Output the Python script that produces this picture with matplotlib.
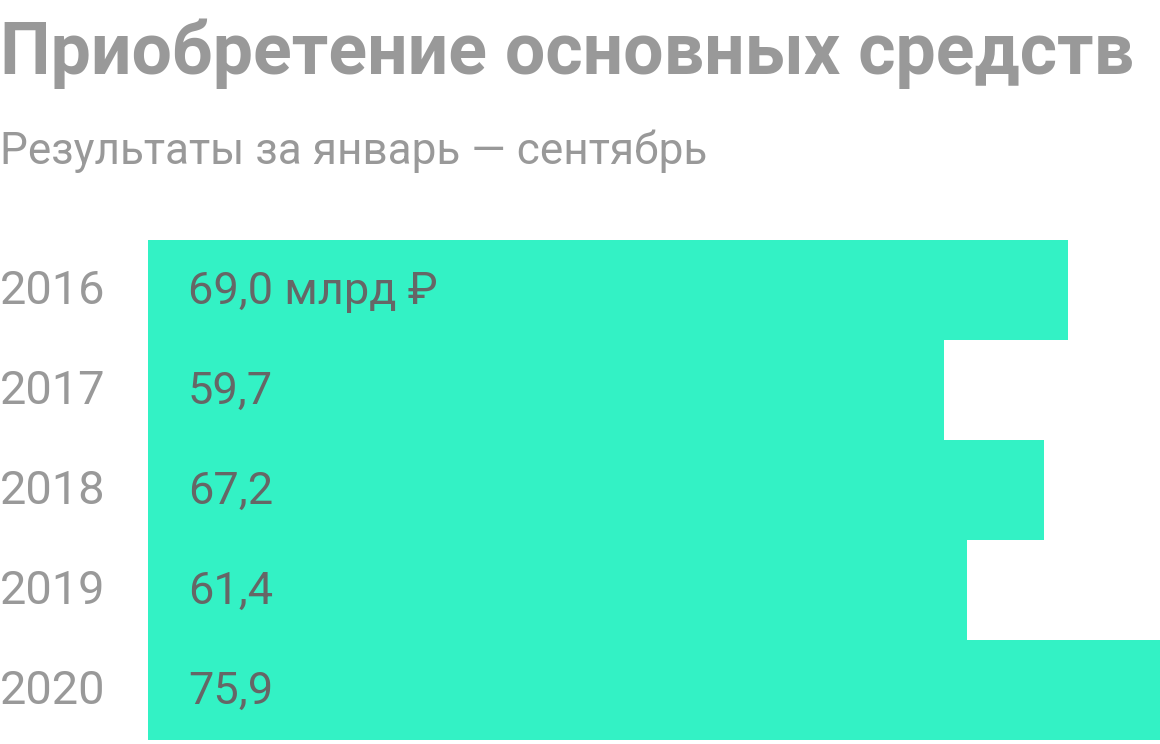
import matplotlib
matplotlib.use("Agg")
import matplotlib.pyplot as plt

years = ["2016", "2017", "2018", "2019", "2020"]
values = [69.0, 59.7, 67.2, 61.4, 75.9]
value_labels = ["69,0 млрд ₽", "59,7", "67,2", "61,4", "75,9"]
title = "Приобретение основных средств"
subtitle = "Результаты за январь — сентябрь"

plt.rcParams['font.family'] = ['Roboto', 'DejaVu Sans']

W, H = 1160, 744
fig = plt.figure(figsize=(W / 100, H / 100), dpi=100)
fig.patch.set_facecolor('white')

ax = fig.add_axes([148 / W, 4 / H, 1 - 148 / W, 500 / H])
pos = list(range(len(years)))
ax.barh(pos, values, height=1.0, color='#33F2C5', linewidth=0)
ax.set_xlim(0, max(values))
ax.set_ylim(len(years) - 0.5, -0.5)
ax.axis('off')

for i, (y, lab) in enumerate(zip(years, value_labels)):
    base = 1 - (304 + 100 * i) / H
    fig.text(0 / W, base, y, fontsize=33.8, color='#999999',
             va='baseline', ha='left')
    fig.text(188 / W, base, lab, fontsize=32.5, color='#666666',
             va='baseline', ha='left')

fig.text(0, 1 - 74 / H, title, fontsize=51.6, fontweight='bold', color='#999999',
         va='baseline', ha='left')
fig.text(0, 1 - 164 / H, subtitle, fontsize=31.8, color='#999999',
         va='baseline', ha='left')

fig.savefig('out.png', dpi=100)
